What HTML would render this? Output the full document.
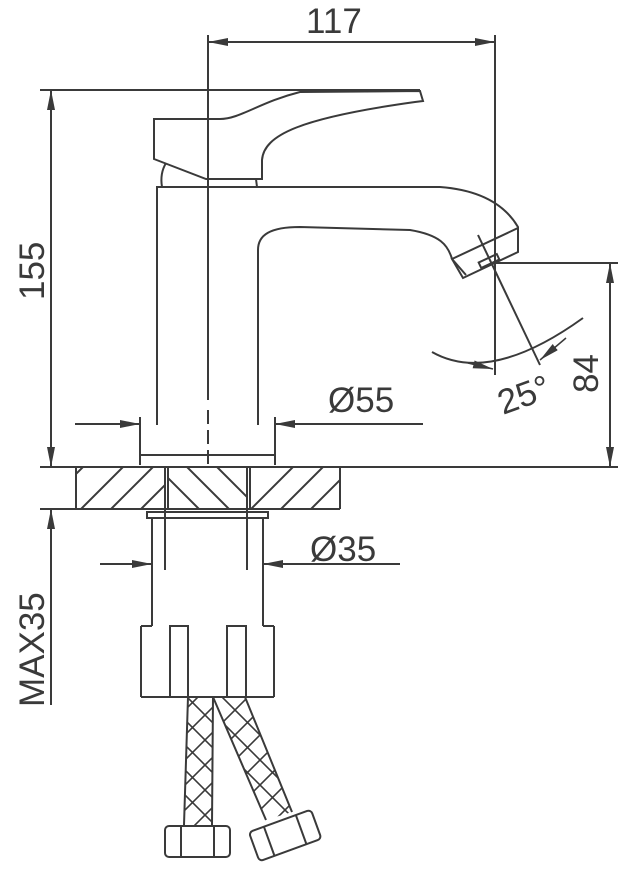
<!DOCTYPE html>
<html><head><meta charset="utf-8"><style>
html,body{margin:0;padding:0;background:#fff}
svg{display:block}
text{font-family:"Liberation Sans",sans-serif;fill:#3a3a3a}
</style></head><body>
<svg width="623" height="876" viewBox="0 0 623 876" xmlns="http://www.w3.org/2000/svg">
<defs>
<marker id="a" viewBox="0 0 20 8" refX="20" refY="4" markerWidth="20" markerHeight="8" orient="auto" markerUnits="userSpaceOnUse"><path d="M0,0 L20,4 L0,8z" fill="#3a3a3a"/></marker>
<clipPath id="cl"><rect x="76" y="467" width="89" height="42"/></clipPath>
<clipPath id="cm"><rect x="168" y="467" width="79" height="42"/></clipPath>
<clipPath id="cr"><rect x="250" y="467" width="90" height="42"/></clipPath>
<clipPath id="h1"><polygon points="188,697 213,697 212,826 184,826"/></clipPath>
<clipPath id="h2"><polygon points="213,697 245,697 292,812 266,820"/></clipPath>
</defs>
<g stroke="#3a3a3a" stroke-width="2" fill="none">
<line x1="208" y1="35" x2="208" y2="400"/>
<line x1="208" y1="410" x2="208" y2="465" stroke-dasharray="14,6"/>
<line x1="495" y1="35" x2="495" y2="375"/>
<line x1="230" y1="42" x2="208" y2="42" marker-end="url(#a)"/>
<line x1="230" y1="42" x2="495" y2="42" marker-end="url(#a)"/>
<line x1="40" y1="90" x2="420" y2="90"/>
<line x1="51" y1="110" x2="51" y2="90" marker-end="url(#a)"/>
<line x1="51" y1="110" x2="51" y2="467" marker-end="url(#a)"/>
<path d="M154,119 L154,159 L206,179 L262,179 L262,160 C264,135 300,118 415,102 L423,101 L420,91 L300,92 C260,102 240,119 220,119 Z"/>
<path d="M162,187 C160,175 163,168 166,163"/>
<line x1="256" y1="179" x2="257" y2="187"/>
<path d="M157,425 L157,187 L440,187 C480,190 505,205 518,227"/>
<path d="M258,425 L258,250 C258,235 270,227 300,227 L410,230 C440,235 448,245 452,259"/>
<path d="M452,259 L518,228 L518,252 L463,278 Z"/>
<path d="M452,259 L466,275"/>
<rect x="479" y="258" width="20" height="6" transform="rotate(-25 489 261)"/>
<line x1="478" y1="235" x2="540" y2="365"/>
<path d="M432,352 Q490,385 583,318"/>
<line x1="468" y1="363" x2="493" y2="369" marker-end="url(#a)" stroke-width="1.5"/>
<line x1="566" y1="338" x2="540" y2="360" marker-end="url(#a)" stroke-width="1.5"/>
<line x1="493" y1="263" x2="618" y2="263"/>
<line x1="610" y1="300" x2="610" y2="263" marker-end="url(#a)"/>
<line x1="610" y1="300" x2="610" y2="467" marker-end="url(#a)"/>
<path d="M140,417 L140,465 M275,417 L275,465 M140,455 L275,455"/>
<line x1="75" y1="424" x2="140" y2="424" marker-end="url(#a)"/>
<line x1="423" y1="424" x2="275" y2="424" marker-end="url(#a)"/>
<line x1="40" y1="467" x2="618" y2="467"/>
<line x1="40" y1="509" x2="340" y2="509"/>
<path d="M76,467 L76,509 M165,467 L165,509 M168,467 L168,509 M247,467 L247,509 M250,467 L250,509 M340,467 L340,509"/>
<g clip-path="url(#cl)"><path d="M60,530 L130,460 M90,530 L160,460 M120,530 L190,460 M150,530 L220,460 M40,510 L100,450"/></g>
<g clip-path="url(#cm)"><path d="M160,440 L230,510 M190,440 L260,510 M220,440 L290,510 M130,440 L200,510"/></g>
<g clip-path="url(#cr)"><path d="M230,530 L300,460 M260,530 L330,460 M290,530 L360,460 M320,530 L390,460"/></g>
<line x1="51" y1="705" x2="51" y2="509" marker-end="url(#a)"/>
<rect x="147" y="512" width="121" height="6"/>
<path d="M152,518 L152,626 M263,518 L263,626 M165,509 L165,570 M247,509 L247,570"/>
<line x1="100" y1="564" x2="152" y2="564" marker-end="url(#a)"/>
<line x1="400" y1="564" x2="263" y2="564" marker-end="url(#a)"/>
<path d="M141,697 L274,697 M141,626 L141,697 M274,626 L274,697 M141,626 L152,626 M263,626 L274,626"/>
<rect x="170" y="626" width="18" height="71"/>
<rect x="227" y="626" width="19" height="71"/>
<path d="M188,697 L184,825 M213,697 L212,825"/>
<path d="M213,697 L266,820 M245,697 L292,812 M213,697 L245,697"/>
<g clip-path="url(#h1)" stroke-width="1.6"><path d="M150,660 L260,770 M150,685 L260,795 M150,710 L260,820 M150,735 L260,845 M150,760 L260,870 M150,635 L260,745 M260,660 L150,770 M260,685 L150,795 M260,710 L150,820 M260,735 L150,845 M260,760 L150,870 M260,635 L150,745"/></g>
<g clip-path="url(#h2)" stroke-width="1.6"><path d="M200,650 L320,770 M200,675 L320,795 M200,700 L320,820 M200,725 L320,845 M200,625 L320,745 M200,600 L320,720 M320,650 L200,770 M320,675 L200,795 M320,700 L200,820 M320,725 L200,845 M320,750 L200,870 M320,775 L200,895 M320,625 L200,745"/></g>
<rect x="165" y="826" width="65" height="31" rx="4"/>
<line x1="181" y1="826" x2="181" y2="857"/><line x1="214" y1="826" x2="214" y2="857"/>
<g transform="rotate(-20 285 835)"><rect x="252" y="820" width="66" height="31" rx="4"/><line x1="268" y1="820" x2="268" y2="851"/><line x1="302" y1="820" x2="302" y2="851"/></g>
</g>
<text x="306" y="33" font-size="35">117</text>
<text x="328" y="412" font-size="35">Ø55</text>
<text x="310" y="561" font-size="35">Ø35</text>
<text transform="translate(44,300) rotate(-90)" font-size="35">155</text>
<text transform="translate(44,707) rotate(-90)" font-size="35">MAX35</text>
<text transform="translate(598,393) rotate(-90)" font-size="35">84</text>
<text transform="translate(503,415) rotate(-20)" font-size="35">25°</text>
</svg>
</body></html>
